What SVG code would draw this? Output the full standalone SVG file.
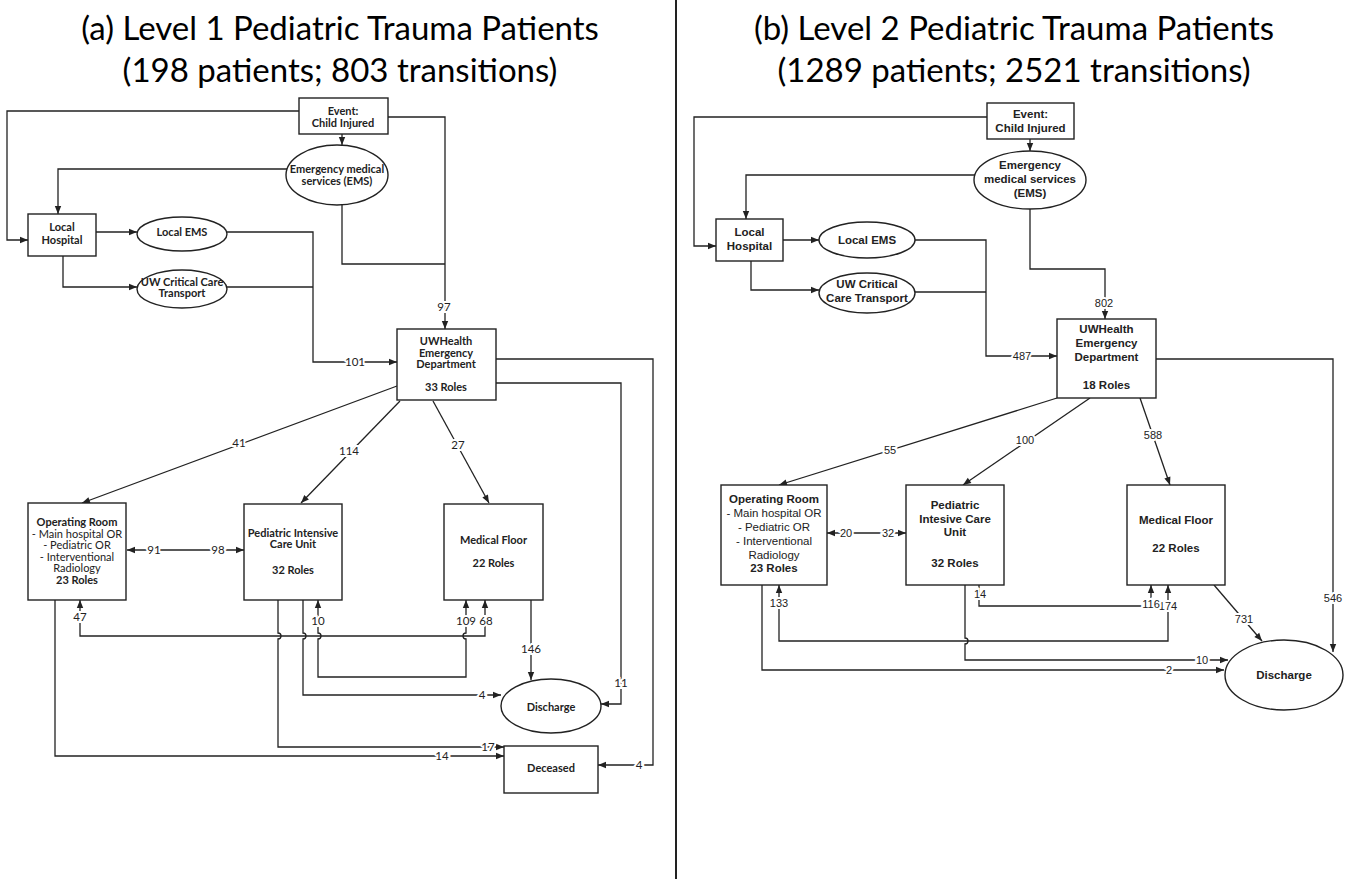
<svg xmlns="http://www.w3.org/2000/svg" width="1355" height="879" viewBox="0 0 1355 879">
<style>
.bx{fill:#fff;stroke:#222;stroke-width:1.4}
.ln{fill:none;stroke:#222;stroke-width:1.3}
.title{font-family:Lato,"Open Sans",sans-serif;font-size:33px;fill:#000;text-anchor:middle}
.tl{font-family:Lato,"Liberation Sans",sans-serif;font-size:11px;font-weight:bold;fill:#222;text-anchor:middle}
.tlr{font-family:Lato,"Liberation Sans",sans-serif;font-size:11px;fill:#222;text-anchor:middle}
.tr{font-family:"Liberation Sans",Arial,sans-serif;font-size:11.5px;font-weight:bold;fill:#222;text-anchor:middle}
.trr{font-family:"Liberation Sans",Arial,sans-serif;font-size:11.5px;fill:#222;text-anchor:middle}
.nl{font-family:Lato,"Liberation Sans",sans-serif;font-size:11.5px;fill:#222;text-anchor:middle;paint-order:stroke;stroke:#fff;stroke-width:4px}
.nr{font-family:"Liberation Sans",Arial,sans-serif;font-size:11px;fill:#222;text-anchor:middle;paint-order:stroke;stroke:#fff;stroke-width:4px}
</style>
<defs>
<marker id="ah" viewBox="0 0 10 10" refX="10" refY="5" markerWidth="9" markerHeight="8" orient="auto-start-reverse" markerUnits="userSpaceOnUse">
<path d="M0,1 L10,5 L0,9 z" fill="#222"/>
</marker>
</defs>
<rect width="1355" height="879" fill="#fff"/>
<line x1="676" y1="0" x2="676" y2="879" stroke="#222" stroke-width="2"/>
<g id="titles">
<text class="title" x="340" y="40">(a) Level 1 Pediatric Trauma Patients</text>
<text class="title" x="340" y="82">(198 patients; 803 transitions)</text>
<text class="title" x="1014" y="40">(b) Level 2 Pediatric Trauma Patients</text>
<text class="title" x="1014" y="82">(1289 patients; 2521 transitions)</text>
</g>

<g id="connectors">
<!-- left panel -->
<path class="ln" d="M299,111 H7 V240 H28" marker-end="url(#ah)"/>
<path class="ln" d="M388,117 H445 V329" marker-end="url(#ah)"/>
<path class="ln" d="M342,134 V145" marker-end="url(#ah)"/>
<path class="ln" d="M287,169 H58 V214" marker-end="url(#ah)"/>
<path class="ln" d="M342,205 V264 H445"/>
<path class="ln" d="M96,232 H137" marker-end="url(#ah)"/>
<path class="ln" d="M63,256 V287 H137" marker-end="url(#ah)"/>
<path class="ln" d="M227,232 H313 V362 H397" marker-end="url(#ah)"/>
<path class="ln" d="M227,287 H313"/>
<path class="ln" d="M496,359 H653 V765 H598" marker-end="url(#ah)"/>
<path class="ln" d="M496,383 H621 V704 H601" marker-end="url(#ah)"/>
<path class="ln" d="M397,386 L82,503" marker-end="url(#ah)"/>
<path class="ln" d="M400,401 L301,503" marker-end="url(#ah)"/>
<path class="ln" d="M433,401 L489,503" marker-end="url(#ah)"/>
<path class="ln" d="M127,550 H244" marker-start="url(#ah)" marker-end="url(#ah)"/>
<path class="ln" d="M55,600 V756 H504" marker-end="url(#ah)"/>
<path class="ln" d="M80,600 V636 H485 V600" marker-start="url(#ah)" marker-end="url(#ah)"/>
<path class="ln" d="M278,600 V633 A3,3 0 0 1 278,639 V747 H504" marker-end="url(#ah)"/>
<path class="ln" d="M303,600 V633 A3,3 0 0 1 303,639 V695 H501" marker-end="url(#ah)"/>
<path class="ln" d="M318,600 V633 A3,3 0 0 1 318,639 V677 H466 V639 A3,3 0 0 1 466,633 V600" marker-start="url(#ah)" marker-end="url(#ah)"/>
<path class="ln" d="M531,600 V680" marker-end="url(#ah)"/>
<!-- left labels -->
<text class="nl" x="444" y="311">97</text>
<text class="nl" x="355" y="366">101</text>
<text class="nl" x="639" y="769">4</text>
<text class="nl" x="621" y="687">11</text>
<text class="nl" x="239" y="447">41</text>
<text class="nl" x="349" y="455">114</text>
<text class="nl" x="458" y="449">27</text>
<text class="nl" x="154" y="554">91</text>
<text class="nl" x="218" y="554">98</text>
<text class="nl" x="442" y="760">14</text>
<text class="nl" x="80" y="621">47</text>
<text class="nl" x="486" y="625">68</text>
<text class="nl" x="466" y="625">109</text>
<text class="nl" x="318" y="625">10</text>
<text class="nl" x="488" y="751">17</text>
<text class="nl" x="482" y="699">4</text>
<text class="nl" x="531" y="653">146</text>

<!-- right panel -->
<path class="ln" d="M987,117 H694 V246 H716" marker-end="url(#ah)"/>
<path class="ln" d="M1030,139 V151" marker-end="url(#ah)"/>
<path class="ln" d="M975,175 H746 V219" marker-end="url(#ah)"/>
<path class="ln" d="M1030,209 V269 H1105 V319" marker-end="url(#ah)"/>
<path class="ln" d="M783,240 H819" marker-end="url(#ah)"/>
<path class="ln" d="M751,261 V290 H819" marker-end="url(#ah)"/>
<path class="ln" d="M915,240 H986 V356 H1057" marker-end="url(#ah)"/>
<path class="ln" d="M915,292 H986"/>
<path class="ln" d="M1156,359 H1333 V652" marker-end="url(#ah)"/>
<path class="ln" d="M1057,398 L779,485" marker-end="url(#ah)"/>
<path class="ln" d="M1090,398 L963,485" marker-end="url(#ah)"/>
<path class="ln" d="M1140,398 L1170,485" marker-end="url(#ah)"/>
<path class="ln" d="M827,533 H906" marker-start="url(#ah)" marker-end="url(#ah)"/>
<path class="ln" d="M762,585 V670 H1224" marker-end="url(#ah)"/>
<path class="ln" d="M779,585 V641 H1168 V585" marker-start="url(#ah)" marker-end="url(#ah)"/>
<path class="ln" d="M965,585 V638 A3,3 0 0 1 965,644 V660 H1228" marker-end="url(#ah)"/>
<path class="ln" d="M979,585 V606 H1151 V585" marker-end="url(#ah)"/>
<path class="ln" d="M1214,585 L1262,641" marker-end="url(#ah)"/>
<!-- right labels -->
<text class="nr" x="1104" y="307">802</text>
<text class="nr" x="1022" y="360">487</text>
<text class="nr" x="1333" y="602">546</text>
<text class="nr" x="890" y="454">55</text>
<text class="nr" x="1025" y="444">100</text>
<text class="nr" x="1153" y="439">588</text>
<text class="nr" x="846" y="537">20</text>
<text class="nr" x="888" y="537">32</text>
<text class="nr" x="1169" y="674">2</text>
<text class="nr" x="779" y="607">133</text>
<text class="nr" x="1168" y="610">174</text>
<text class="nr" x="1202" y="664">10</text>
<text class="nr" x="980" y="598">14</text>
<text class="nr" x="1151" y="608">116</text>
<text class="nr" x="1244" y="623">731</text>
</g>

<!-- left nodes -->
<g id="L-event"><rect class="bx" x="299" y="98" width="89" height="36"/>
<text class="tl" x="343" y="115">Event:</text><text class="tl" x="343" y="127">Child Injured</text></g>
<g id="L-ems"><ellipse class="bx" cx="337" cy="175" rx="51" ry="30"/>
<text class="tl" x="337" y="173">Emergency medical</text><text class="tl" x="337" y="185">services (EMS)</text></g>
<g id="L-localhospital"><rect class="bx" x="28" y="214" width="68" height="42"/>
<text class="tl" x="62" y="231">Local</text><text class="tl" x="62" y="244">Hospital</text></g>
<g id="L-localems"><ellipse class="bx" cx="182" cy="234" rx="45" ry="17"/>
<text class="tl" x="182" y="236">Local EMS</text></g>
<g id="L-uwcct"><ellipse class="bx" cx="182" cy="289" rx="45" ry="19"/>
<text class="tl" x="182" y="286">UW Critical Care</text><text class="tl" x="182" y="297">Transport</text></g>
<g id="L-ed"><rect class="bx" x="397" y="329" width="99" height="71"/>
<text class="tl" x="446" y="345">UWHealth</text><text class="tl" x="446" y="357">Emergency</text><text class="tl" x="446" y="368">Department</text><text class="tl" x="446" y="391">33 Roles</text></g>
<g id="L-or"><rect class="bx" x="28" y="503" width="98" height="97"/>
<text class="tl" x="77" y="526">Operating Room</text>
<text class="tlr" x="77" y="537.5">- Main hospital OR</text>
<text class="tlr" x="77" y="549">- Pediatric OR</text>
<text class="tlr" x="77" y="560.5">- Interventional</text>
<text class="tlr" x="77" y="572">Radiology</text>
<text class="tl" x="77" y="583.5">23 Roles</text></g>
<g id="L-picu"><rect class="bx" x="244" y="504" width="98" height="96"/>
<text class="tl" x="293" y="537">Pediatric Intensive</text><text class="tl" x="293" y="548">Care Unit</text><text class="tl" x="293" y="574">32 Roles</text></g>
<g id="L-mf"><rect class="bx" x="444" y="504" width="99" height="96"/>
<text class="tl" x="493.5" y="544">Medical Floor</text><text class="tl" x="493.5" y="567">22 Roles</text></g>
<g id="L-discharge"><ellipse class="bx" cx="551" cy="706" rx="50" ry="27"/>
<text class="tl" x="551" y="711">Discharge</text></g>
<g id="L-deceased"><rect class="bx" x="504" y="746" width="94" height="47"/>
<text class="tl" x="551" y="772">Deceased</text></g>

<!-- right nodes -->
<g id="R-event"><rect class="bx" x="987" y="103" width="87" height="36"/>
<text class="tr" x="1030.5" y="118">Event:</text><text class="tr" x="1030.5" y="132">Child Injured</text></g>
<g id="R-ems"><ellipse class="bx" cx="1030" cy="180" rx="56" ry="29"/>
<text class="tr" x="1030" y="169">Emergency</text><text class="tr" x="1030" y="183">medical services</text><text class="tr" x="1030" y="197">(EMS)</text></g>
<g id="R-localhospital"><rect class="bx" x="716" y="219" width="67" height="42"/>
<text class="tr" x="749.5" y="236">Local</text><text class="tr" x="749.5" y="250">Hospital</text></g>
<g id="R-localems"><ellipse class="bx" cx="867" cy="240" rx="48" ry="18"/>
<text class="tr" x="867" y="244">Local EMS</text></g>
<g id="R-uwcct"><ellipse class="bx" cx="867" cy="293" rx="48" ry="20"/>
<text class="tr" x="867" y="288">UW Critical</text><text class="tr" x="867" y="302">Care Transport</text></g>
<g id="R-ed"><rect class="bx" x="1057" y="319" width="99" height="79"/>
<text class="tr" x="1106.5" y="333">UWHealth</text><text class="tr" x="1106.5" y="347">Emergency</text><text class="tr" x="1106.5" y="361">Department</text><text class="tr" x="1106.5" y="389">18 Roles</text></g>
<g id="R-or"><rect class="bx" x="721" y="485" width="106" height="100"/>
<text class="tr" x="774" y="503">Operating Room</text>
<text class="trr" x="774" y="517">- Main hospital OR</text>
<text class="trr" x="774" y="531">- Pediatric OR</text>
<text class="trr" x="774" y="545">- Interventional</text>
<text class="trr" x="774" y="559">Radiology</text>
<text class="tr" x="774" y="572">23 Roles</text></g>
<g id="R-picu"><rect class="bx" x="906" y="485" width="98" height="100"/>
<text class="tr" x="955" y="509">Pediatric</text><text class="tr" x="955" y="523">Intesive Care</text><text class="tr" x="955" y="536">Unit</text><text class="tr" x="955" y="567">32 Roles</text></g>
<g id="R-mf"><rect class="bx" x="1127" y="485" width="98" height="100"/>
<text class="tr" x="1176" y="524">Medical Floor</text><text class="tr" x="1176" y="552">22 Roles</text></g>
<g id="R-discharge"><ellipse class="bx" cx="1284" cy="675" rx="59" ry="35"/>
<text class="tr" x="1284" y="679">Discharge</text></g>
</svg>
